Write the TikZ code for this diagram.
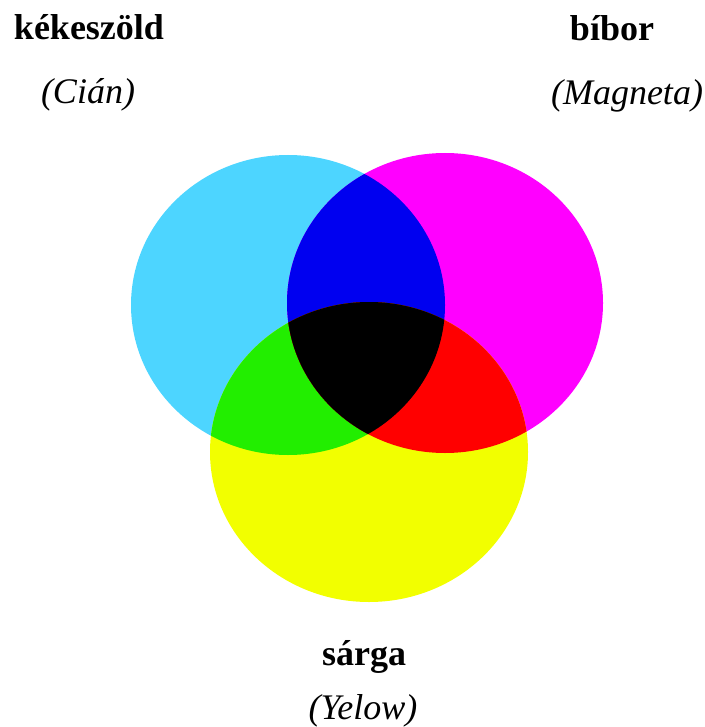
\documentclass[tikz,border=0pt]{standalone}
\usepackage{fontspec}
\setmainfont{Liberation Serif}
\definecolor{cyanc}{RGB}{77,213,255}
\definecolor{magc}{RGB}{255,0,255}
\definecolor{yelc}{RGB}{242,255,0}
\definecolor{bluec}{RGB}{0,0,240}
\definecolor{greenc}{RGB}{34,238,0}
\definecolor{redc}{RGB}{255,0,0}
\tikzset{
  title/.style={font=\fontsize{36}{40}\selectfont\bfseries, anchor=base, inner sep=0pt},
  sub/.style={font=\fontsize{36}{40}\selectfont\itshape, anchor=base, inner sep=0pt},
}
\begin{document}
\begin{tikzpicture}[x=1pt,y=-1pt]
\useasboundingbox (0,0) rectangle (704,727);
\def\cyanpath{(288,305) ellipse [x radius=157, y radius=150]}
\def\magpath{(445,303) ellipse [x radius=158, y radius=150]}
\def\yelpath{(369,452) ellipse [x radius=159, y radius=150]}
\fill[cyanc] \cyanpath;
\fill[magc] \magpath;
\fill[yelc] \yelpath;
\begin{scope}
  \clip \cyanpath;
  \fill[bluec] \magpath;
  \fill[greenc] \yelpath;
  \clip \magpath;
  \fill[black] \yelpath;
\end{scope}
\begin{scope}
  \clip \magpath;
  \clip \yelpath;
  \fill[redc] (200,290) rectangle (620,620);
  \clip \cyanpath;
  \fill[black] (200,290) rectangle (620,620);
\end{scope}
\node[title] (cyan) at (89,40) {kékeszöld};
\node[sub] (cyansub) at (88,104) {(Cián)};
\node[title] (mag) at (612,41) {bíbor};
\node[sub] (magsub) at (627,105) {(Magneta)};
\node[title] (yel) at (364,665) {sárga};
\node[sub] (yelsub) at (363,719) {(Yelow)};
\end{tikzpicture}
\end{document}
